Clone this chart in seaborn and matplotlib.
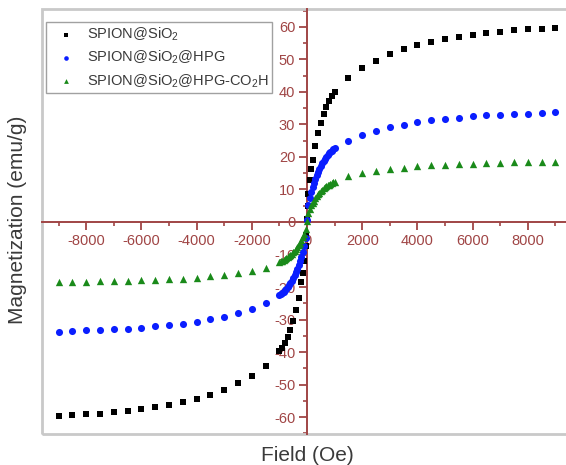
import matplotlib
matplotlib.use("Agg")
import matplotlib.pyplot as plt
import seaborn as sns
import pandas as pd
from matplotlib.ticker import MultipleLocator, FixedLocator
from matplotlib.patches import Rectangle

# ---------------- data ----------------
SERIES = ["SPION@SiO$_2$", "SPION@SiO$_2$@HPG", "SPION@SiO$_2$@HPG-CO$_2$H"]

HIGH_NEG_H = [-9000, -8500, -8000, -7500, -7000, -6500, -6000, -5500,
              -5000, -4500, -4000, -3500, -3000, -2500, -2000, -1500]
HIGH_POS_H = [1500, 2000, 2500, 3000, 3500, 4000, 4500, 5000,
              5500, 6000, 6500, 7000, 7500, 8000, 8500, 9000]

black_dense_h = [-1000, -900, -800, -700, -600, -500, -400, -300, -200, -150, -100, -50, -25,
                 0, 25, 50, 100, 150, 200, 300, 400, 500, 600, 700, 800, 900, 1000]
black_high_neg = [-59.8, -59.5, -59.2, -58.9, -58.5, -58.0, -57.4, -56.8,
                  -56.2, -55.5, -54.5, -53.1, -51.7, -49.6, -47.5, -44.2]
black_dense_m = [-39.8, -38.6, -37.1, -35.3, -33.1, -30.3, -27.0, -23.3, -18.6, -15.8, -12.0, -7.5, -4.0,
                 1.0, 5.0, 8.5, 12.8, 16.3, 19.0, 23.5, 27.3, 30.5, 33.3, 35.5, 37.2, 38.7, 40.0]
black_high_pos = [44.2, 47.5, 49.6, 51.7, 53.1, 54.5, 55.5, 56.2,
                  56.8, 57.4, 58.0, 58.5, 58.9, 59.2, 59.5, 59.8]

fine_dense_h = [-1000, -950, -900, -850, -800, -750, -700, -650, -600, -550, -500,
                -450, -400, -350, -300, -250, -200, -150, -100, -50, 0,
                50, 100, 150, 200, 250, 300, 350, 400, 450, 500,
                550, 600, 650, 700, 750, 800, 850, 900, 950, 1000]

blue_high_neg = [-33.7, -33.5, -33.3, -33.2, -33.0, -32.8, -32.5, -32.1,
                 -31.8, -31.3, -30.7, -29.9, -29.1, -28.0, -26.8, -25.0]
blue_dense_m = [-22.6, -22.2, -21.8, -21.4, -21.0, -20.5, -20.0, -19.4, -18.8, -18.0, -17.2,
                -16.3, -15.4, -14.4, -13.2, -12.0, -10.7, -9.1, -7.3, -5.0, 0.5,
                5.1, 7.4, 9.2, 10.8, 12.1, 13.3, 14.5, 15.5, 16.4, 17.3,
                18.1, 18.9, 19.5, 20.1, 20.6, 21.1, 21.5, 21.9, 22.3, 22.7]
blue_high_pos = [25.0, 26.8, 28.0, 29.1, 29.9, 30.7, 31.3, 31.8,
                 32.1, 32.5, 32.8, 33.0, 33.2, 33.3, 33.5, 33.7]

green_high_neg = [-18.6, -18.5, -18.4, -18.3, -18.2, -18.1, -17.9, -17.8,
                  -17.6, -17.4, -17.1, -16.7, -16.3, -15.7, -15.0, -14.2]
green_dense_m = [-12.3, -12.1, -11.9, -11.7, -11.4, -11.1, -10.8, -10.5, -10.1, -9.7, -9.3,
                 -8.8, -8.3, -7.7, -7.1, -6.4, -5.6, -4.7, -3.6, -2.2, 0.3,
                 2.8, 4.0, 5.1, 5.9, 6.6, 7.3, 7.9, 8.5, 9.0, 9.5,
                 9.9, 10.3, 10.7, 11.0, 11.3, 11.5, 11.8, 12.0, 12.2, 12.4]
green_high_pos = [14.2, 15.0, 15.7, 16.3, 16.7, 17.1, 17.4, 17.6,
                  17.8, 17.9, 18.1, 18.2, 18.3, 18.4, 18.5, 18.6]

X_MAJOR = [-8000, -6000, -4000, -2000, 0, 2000, 4000, 6000, 8000]
Y_MAJOR = [-60, -50, -40, -30, -20, -10, 0, 10, 20, 30, 40, 50, 60]

# ---------------- table ----------------
frames = []
for name, h, m in [
    (SERIES[0], HIGH_NEG_H + black_dense_h + HIGH_POS_H, black_high_neg + black_dense_m + black_high_pos),
    (SERIES[1], HIGH_NEG_H + fine_dense_h + HIGH_POS_H, blue_high_neg + blue_dense_m + blue_high_pos),
    (SERIES[2], HIGH_NEG_H + fine_dense_h + HIGH_POS_H, green_high_neg + green_dense_m + green_high_pos),
]:
    frames.append(pd.DataFrame({"Field": h, "M": m, "Sample": name}))
df = pd.concat(frames, ignore_index=True)

# ---------------- style ----------------
sns.set_style("white")
plt.rcParams["font.family"] = ["Liberation Sans", "DejaVu Sans"]
plt.rcParams["mathtext.fontset"] = "custom"
plt.rcParams["mathtext.rm"] = "Liberation Sans"
plt.rcParams["mathtext.it"] = "Liberation Sans"
plt.rcParams["mathtext.default"] = "regular"

AXC = "#a04545"
FRAME = "#c9c9c9"
TXT = "#3a3a3a"

fig = plt.figure(figsize=(5.66, 4.65), dpi=100)
ax = fig.add_axes([42 / 566, 31 / 465, 530 / 566, 425 / 465])

palette = {SERIES[0]: "black", SERIES[1]: "#0a1eff", SERIES[2]: "#1a8a1a"}
markers = {SERIES[0]: "s", SERIES[1]: "o", SERIES[2]: "^"}
sizes = {SERIES[0]: 22, SERIES[1]: 26, SERIES[2]: 28}

for name in SERIES:
    sub = df[df["Sample"] == name]
    sns.scatterplot(data=sub, x="Field", y="M", color=palette[name], marker=markers[name],
                    s=sizes[name], linewidth=0, ax=ax, label=name, zorder=3)

ax.set_xlim(-9600, 9600)
ax.set_ylim(-65.2, 65.5)

for s in ["top", "right"]:
    ax.spines[s].set_visible(False)
ax.spines["left"].set_position(("data", 0))
ax.spines["bottom"].set_position(("data", 0))
for s in ["left", "bottom"]:
    ax.spines[s].set_color(AXC)
    ax.spines[s].set_linewidth(1.4)
    ax.spines[s].set_zorder(2)

ax.add_patch(Rectangle((0, 0), 1, 1, transform=ax.transAxes, fill=False,
                       edgecolor=FRAME, linewidth=2.0, clip_on=False, zorder=1))

ax.xaxis.set_major_locator(FixedLocator(X_MAJOR))
ax.xaxis.set_minor_locator(MultipleLocator(1000))
ax.yaxis.set_major_locator(FixedLocator(Y_MAJOR))
ax.yaxis.set_minor_locator(MultipleLocator(5))
ax.set_xticklabels([str(v) for v in X_MAJOR])
ax.set_yticklabels([str(v) for v in Y_MAJOR])

ax.tick_params(axis="x", which="both", bottom=True, top=False)
ax.tick_params(axis="y", which="both", left=True, right=False)
ax.tick_params(axis="both", which="major", direction="out", length=6, width=1.3,
               color=AXC, labelcolor=AXC, labelsize=10.5, pad=2.5)
ax.tick_params(axis="both", which="minor", direction="out", length=3, width=1.2, color=AXC)

ax.set_xlabel("")
ax.set_ylabel("")
fig.text(307 / 566, 1 - 455 / 465, "Field (Oe)", ha="center", va="center",
         fontsize=15, color=TXT)
fig.text(18 / 566, 1 - 220 / 465, "Magnetization (emu/g)", ha="center", va="center",
         rotation=90, fontsize=15, color=TXT)

leg = ax.legend(loc="upper left", bbox_to_anchor=(46 / 566, 1 - 22 / 465),
                bbox_transform=fig.transFigure, borderaxespad=0, frameon=True,
                fancybox=False, edgecolor="#8a8a8a", fontsize=10.5, markerscale=0.65,
                handlelength=2.3, handletextpad=0.25, borderpad=0.25, labelspacing=0.4)
leg.get_frame().set_linewidth(1.0)
for t in leg.get_texts():
    t.set_color(TXT)

fig.savefig("out.png", dpi=100)
